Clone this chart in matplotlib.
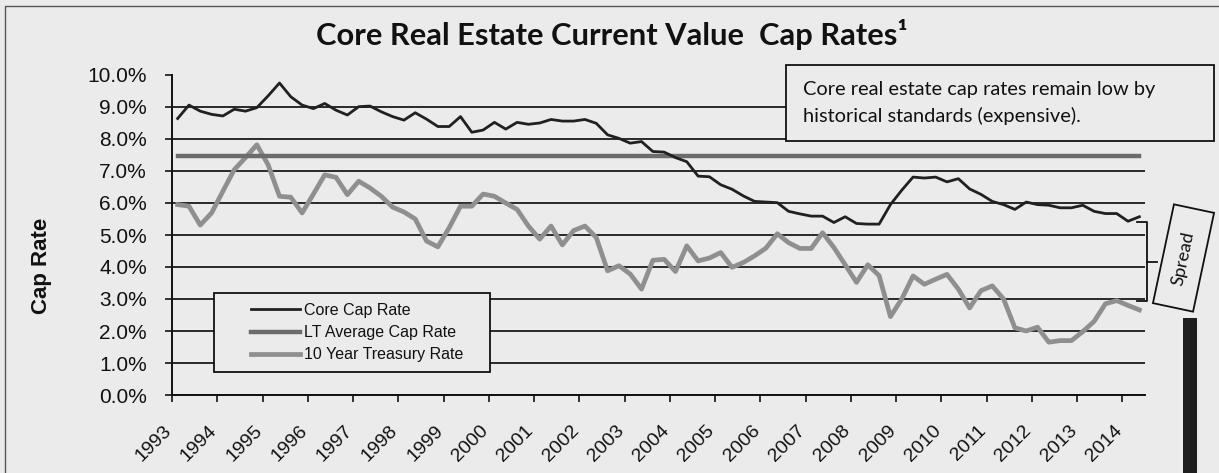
import numpy as np
import matplotlib.pyplot as plt
import matplotlib.transforms as mtransforms
from matplotlib.patches import Rectangle
from matplotlib.lines import Line2D
from matplotlib.ticker import FuncFormatter

plt.rcParams['font.family'] = ['Liberation Sans', 'DejaVu Sans']

# quarterly values, 1993 Q1 .. 2014 Q2 (percent)
years = list(range(1993, 2015))
core_cap_rate = [8.64, 9.06, 8.87, 8.77, 8.72, 8.93, 8.87, 8.98, 9.35, 9.75, 9.32,
                 9.06, 8.95, 9.11, 8.90, 8.75, 9.01, 9.03, 8.85, 8.70, 8.59, 8.82,
                 8.62, 8.39, 8.39, 8.70, 8.21, 8.28, 8.52, 8.31, 8.52, 8.46, 8.50,
                 8.61, 8.56, 8.56, 8.61, 8.49, 8.13, 8.02, 7.87, 7.92, 7.61,
                 7.59, 7.42, 7.29, 6.84, 6.82, 6.57, 6.43, 6.22, 6.05, 6.03, 6.01,
                 5.74, 5.66, 5.59, 5.59, 5.39, 5.57, 5.36, 5.34, 5.34, 5.95,
                 6.40, 6.81, 6.78, 6.81, 6.66, 6.76, 6.44, 6.27, 6.05, 5.95, 5.80,
                 6.03, 5.95, 5.93, 5.85, 5.85, 5.93, 5.74, 5.67, 5.67, 5.43, 5.57]
treasury_rate = [5.95, 5.90, 5.31, 5.69, 6.37, 7.04, 7.42, 7.82, 7.19, 6.21, 6.18,
                 5.69, 6.28, 6.88, 6.80, 6.26, 6.68, 6.47, 6.21, 5.87, 5.72, 5.50,
                 4.81, 4.63, 5.23, 5.90, 5.90, 6.28, 6.21, 6.00, 5.80, 5.28, 4.87,
                 5.28, 4.69, 5.14, 5.28, 4.92, 3.88, 4.04, 3.78, 3.31, 4.21,
                 4.24, 3.86, 4.66, 4.19, 4.28, 4.45, 3.99, 4.14, 4.35, 4.59, 5.04,
                 4.76, 4.58, 4.58, 5.07, 4.61, 4.07, 3.52, 4.07, 3.73, 2.45,
                 3.00, 3.72, 3.46, 3.62, 3.77, 3.31, 2.72, 3.26, 3.41, 3.00, 2.10,
                 2.00, 2.12, 1.65, 1.70, 1.70, 1.98, 2.30, 2.85, 2.95, 2.80, 2.66]
lt_average = 7.47

quarters = 1993 + (np.arange(len(core_cap_rate)) + 0.5) / 4
lt_line = [lt_average] * len(core_cap_rate)

bg = '#ebebeb'
W, H = 1219, 473
fig = plt.figure(figsize=(W / 100, H / 100), dpi=100, facecolor=bg)


def P(x, y):
    # pixel position (from top-left) -> inches for dpi_scale_trans
    return x / 100, (H - y) / 100


ax = fig.add_axes([172 / W, 1 - 395 / H, (1145 - 172) / W, 320 / H])
ax.set_facecolor('none')

ax.plot(quarters, treasury_rate, color='#8f8f8f', lw=3.4, label='10 Year Treasury Rate', zorder=3)
ax.plot(quarters, lt_line, color='#6c6c6c', lw=3.2, label='LT Average Cap Rate', zorder=3)
ax.plot(quarters, core_cap_rate, color='#202020', lw=2.0, label='Core Cap Rate', zorder=4)

ax.set_xlim(1993, 2014.5)
ax.set_ylim(0, 10)
ax.set_yticks(range(0, 11))
ax.yaxis.set_major_formatter(FuncFormatter(lambda v, p: f'{v:.1f}%'))
ax.yaxis.grid(True, color='#1a1a1a', lw=1.3)
ax.set_axisbelow(True)
ax.get_ygridlines()[-1].set_visible(False)

for s in ['top', 'right']:
    ax.spines[s].set_visible(False)
for s in ['left', 'bottom']:
    ax.spines[s].set_linewidth(1.4)
    ax.spines[s].set_color('#111111')

ax.tick_params(axis='y', direction='out', length=5, width=1.2, pad=13, labelsize=15, colors='#111111')
ax.set_xticks(years)
ax.set_xticklabels([str(y) for y in years], rotation=45, ha='right', va='center',
                   rotation_mode='anchor')
ax.tick_params(axis='x', direction='out', length=5, width=1.2, pad=19, labelsize=14, colors='#111111')
offset = mtransforms.ScaledTranslation(-0.03, 0, fig.dpi_scale_trans)
for lab in ax.get_xticklabels():
    lab.set_transform(lab.get_transform() + offset)

fig.text(41 / W, 1 - 266 / H, 'Cap Rate', rotation=90, ha='center', va='center',
         fontsize=16, fontweight='bold', color='#111111')

# title
fig.text(612 / W, 1 - 45 / H, 'Core Real Estate Current Value  Cap Rates\u00b9',
         ha='center', va='baseline', fontsize=22.2, fontweight='bold',
         family=['Lato', 'DejaVu Sans'], color='#111111')

# legend with its own frame
fig.add_artist(Rectangle(P(214, 372), 276 / 100, 79 / 100, transform=fig.dpi_scale_trans,
                         fc=bg, ec='#111111', lw=1.3, zorder=2))
h, l = ax.get_legend_handles_labels()
order = [2, 1, 0]
leg = fig.legend([h[i] for i in order], [l[i] for i in order], loc='upper left',
                 bbox_to_anchor=(243 / W, 1 - 295 / H), frameon=False, borderpad=0,
                 fontsize=11.5, handlelength=3.05, handletextpad=0.25, labelspacing=0.45)
leg.set_zorder(6)
for t in leg.get_texts():
    t.set_color('#111111')

# comment box
fig.add_artist(Rectangle(P(786, 141), 428 / 100, 76 / 100, transform=fig.dpi_scale_trans,
                         fc=bg, ec='#111111', lw=1.3, zorder=2))
fig.text(803 / W, 1 - 95 / H, 'Core real estate cap rates remain low by', ha='left',
         va='baseline', fontsize=14.4, family=['Lato', 'DejaVu Sans'], color='#111111', zorder=3)
fig.text(803 / W, 1 - 121.7 / H, 'historical standards (expensive).', ha='left',
         va='baseline', fontsize=14.4, family=['Lato', 'DejaVu Sans'], color='#111111', zorder=3)

# spread bracket
bx = [1137, 1146.5, 1146.5, 1137]
by = [222, 222, 301, 301]
fig.add_artist(Line2D([P(x, y)[0] for x, y in zip(bx, by)], [P(x, y)[1] for x, y in zip(bx, by)],
                      transform=fig.dpi_scale_trans, color='#111111', lw=1.3))
fig.add_artist(Line2D([P(1146.5, 262)[0], P(1157, 262)[0]], [P(1146.5, 262)[1], P(1157, 262)[1]],
                      transform=fig.dpi_scale_trans, color='#111111', lw=1.3))

cx, cy = P(1183.5, 258)
fig.add_artist(Rectangle((cx - 0.505, cy - 0.205), 1.01, 0.41, angle=78, rotation_point='center',
                         transform=fig.dpi_scale_trans, fc=bg, ec='#111111', lw=1.3, zorder=2))
fig.text(1183.5 / W, 1 - 258 / H, 'Spread', rotation=78, ha='center', va='center',
         rotation_mode='anchor', fontsize=13, family=['Lato', 'DejaVu Sans'], color='#111111', zorder=3)

# dark bar at bottom right
fig.add_artist(Rectangle(P(1183, 480), 14 / 100, 162 / 100, transform=fig.dpi_scale_trans,
                         fc='#1e1e1e', ec='none', zorder=2))

# outer frame
fig.add_artist(Line2D([P(5, 480)[0], P(5, 6)[0], P(1225, 6)[0]],
                      [P(5, 480)[1], P(5, 6)[1], P(1225, 6)[1]],
                      transform=fig.dpi_scale_trans, color='#555555', lw=1.0))

fig.savefig('out.png', dpi=100, facecolor=bg)
